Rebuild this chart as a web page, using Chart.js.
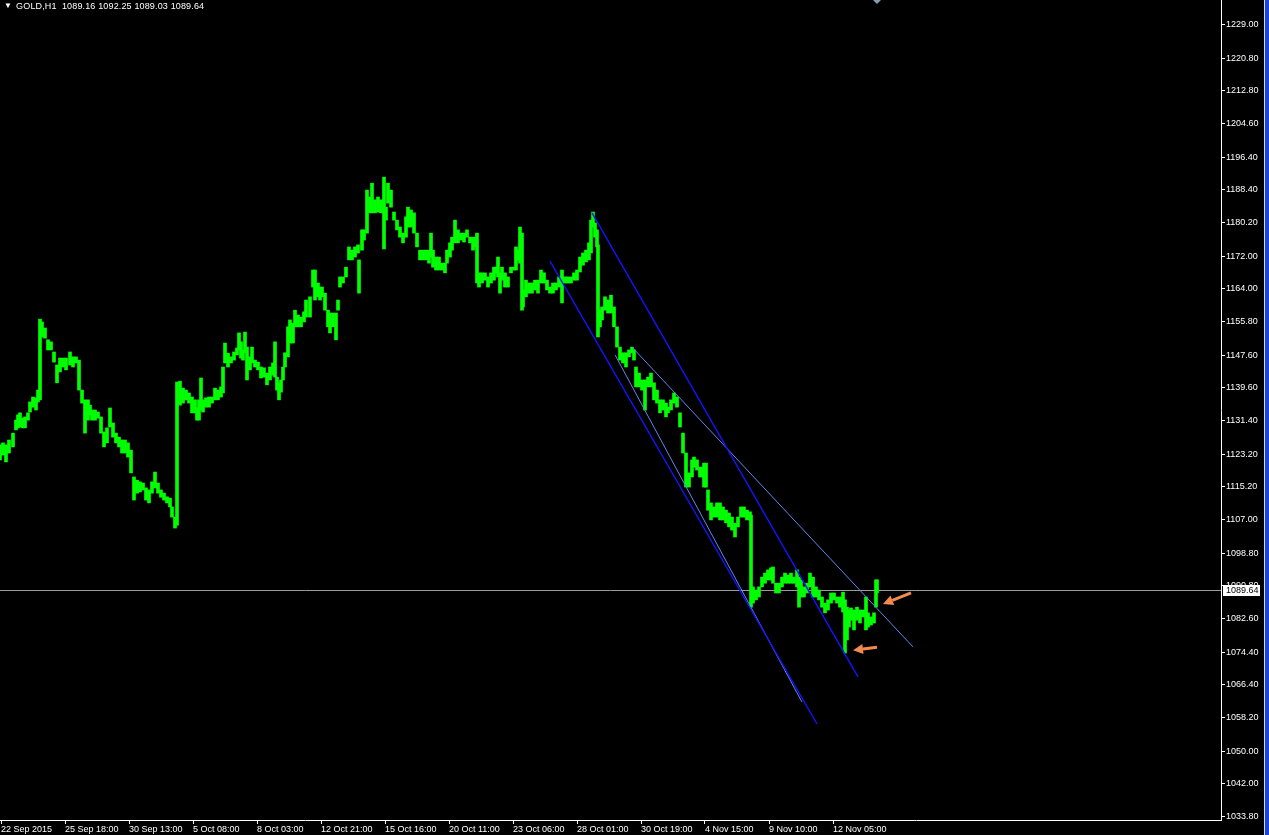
<!DOCTYPE html>
<html><head><meta charset="utf-8">
<script src="https://cdn.jsdelivr.net/npm/chart.js@4/dist/chart.umd.min.js"></script>
<style>
html,body{margin:0;padding:0;background:#000;overflow:hidden}
#wrap{position:relative;width:1269px;height:835px;background:#000}
#c{position:absolute;left:0;top:0}
#hdr{position:absolute;left:4px;top:0;color:#fff;font:9px "Liberation Sans",Arial,sans-serif;white-space:pre;line-height:12px;letter-spacing:0.15px}
#hdr .tri{font-size:8px;vertical-align:1px;margin-right:4px}
#mark{position:absolute;left:873px;top:0;width:0;height:0;border-left:4px solid transparent;border-right:4px solid transparent;border-top:4px solid #8a9ab0}
#edge{position:absolute;left:1264px;top:0;width:4px;height:835px;border-left:1px solid #d8d8d8;background:#1b45d6}
</style></head>
<body><div id="wrap"><canvas id="c" width="1269" height="835"></canvas><div id="hdr"></div><div id="mark"></div><div id="edge"></div></div>
<script>
// ---- data (x = hourly bar index) ----
const symbolName = "GOLD,H1";
const lastOHLC = [1089.16, 1092.25, 1089.03, 1089.64];

const xTickBars = [1, 65, 129, 193, 257, 321, 385, 449, 513, 577, 641, 705, 769, 833];
const xTickLabels = ["22 Sep 2015","25 Sep 18:00","30 Sep 13:00","5 Oct 08:00","8 Oct 03:00","12 Oct 21:00","15 Oct 16:00","20 Oct 11:00","23 Oct 06:00","28 Oct 01:00","30 Oct 19:00","4 Nov 15:00","9 Nov 10:00","12 Nov 05:00"];
const yTickValues = [1229.00,1220.80,1212.80,1204.60,1196.40,1188.40,1180.20,1172.00,1164.00,1155.80,1147.60,1139.60,1131.40,1123.20,1115.20,1107.00,1098.80,1090.80,1082.60,1074.40,1066.40,1058.20,1050.00,1042.00,1033.80];

const barX = [
0,3,6,9,13,16,18,20,23,25,
28,30,33,36,38,40,42,45,48,51,
54,57,60,63,66,70,73,76,79,82,
85,88,90,92,95,98,101,104,107,110,
113,116,119,122,125,128,131,134,137,140,
143,146,149,152,155,158,161,164,167,170,
172,175,177,180,183,186,189,192,195,197,
199,201,203,206,209,212,215,218,221,223,
225,228,231,234,237,239,241,243,245,247,
250,252,255,258,261,264,267,270,273,275,
277,279,281,283,285,288,290,293,295,298,
301,304,306,310,313,315,318,320,322,325,
328,330,333,336,338,340,343,346,349,352,
355,358,359,362,364,367,370,372,375,378,
381,384,386,388,391,394,397,400,403,406,
408,411,414,417,420,423,426,429,431,433,
436,439,442,445,447,450,452,455,458,461,
464,467,470,473,476,477,479,482,485,488,
491,494,496,498,500,502,505,508,511,514,
516,518,520,522,523,526,529,532,535,538,
541,544,547,550,553,556,559,562,565,568,
571,574,577,580,583,586,589,591,593,595,
597,598,600,602,605,608,611,614,617,620,
623,626,629,632,634,636,639,642,645,648,
651,654,657,660,663,666,668,671,674,677,
680,683,686,689,692,694,697,700,702,704,
706,708,711,714,717,720,723,726,729,732,
735,738,741,744,747,750,751,753,756,759,
762,765,768,771,773,776,779,782,785,788,
791,794,797,799,801,804,807,810,813,816,
819,822,825,828,831,834,837,840,843,845,
847,849,851,854,857,860,863,866,868,871,
874,876,877];

const barHigh = [
1125.5,1126.0,1125.5,1126.7,1128.4,1131.6,1132.9,1133.4,1132.1,1132.4,
1133.4,1136.1,1137.3,1137.1,1139.0,1156.5,1155.8,1154.3,1151.4,1150.9,
1148.4,1145.2,1146.9,1146.9,1146.9,1148.4,1147.2,1147.2,1146.4,1139.0,
1136.6,1136.6,1135.3,1134.1,1134.1,1133.6,1132.4,1128.7,1129.7,1134.6,
1130.9,1128.4,1127.4,1126.7,1126.7,1126.0,1124.2,1117.6,1116.8,1116.4,
1116.1,1114.9,1114.4,1116.4,1118.8,1116.1,1114.4,1113.6,1112.7,1112.4,
1110.2,1107.7,1141.0,1141.2,1139.5,1139.0,1138.3,1137.3,1136.6,1134.8,
1136.6,1142.0,1136.6,1137.1,1137.3,1137.3,1139.5,1139.0,1139.8,1144.7,
1150.6,1148.1,1147.2,1148.4,1149.4,1153.1,1150.9,1148.9,1153.3,1149.6,
1147.2,1149.6,1146.4,1145.9,1144.7,1144.5,1143.2,1144.7,1145.7,1150.9,
1142.2,1140.8,1141.5,1144.7,1148.2,1154.6,1156.3,1155.5,1158.7,1157.5,
1157.0,1158.3,1161.2,1162.0,1168.6,1168.6,1165.4,1164.4,1164.4,1162.9,
1158.7,1158.0,1158.0,1158.0,1161.2,1166.9,1166.9,1169.3,1174.3,1173.5,
1174.3,1174.8,1171.1,1178.5,1178.5,1188.3,1186.6,1190.0,1185.9,1186.6,
1185.9,1191.5,1184.1,1190.0,1188.3,1182.9,1180.9,1179.2,1177.7,1181.7,
1184.1,1183.4,1182.7,1177.7,1173.5,1173.5,1173.5,1173.5,1177.7,1173.5,
1171.8,1171.8,1170.3,1170.3,1173.5,1175.3,1176.7,1180.9,1178.5,1177.7,
1177.7,1178.5,1176.7,1176.7,1176.7,1177.7,1167.9,1167.9,1167.9,1166.9,
1167.9,1169.3,1169.3,1171.8,1167.9,1169.3,1167.9,1166.9,1169.3,1169.3,
1174.3,1173.5,1179.2,1177.7,1163.7,1166.1,1165.4,1165.4,1166.1,1166.1,
1168.6,1167.9,1166.1,1164.4,1165.4,1165.4,1166.9,1168.6,1166.9,1166.9,
1166.9,1167.9,1168.6,1171.8,1172.8,1173.5,1175.3,1180.9,1182.9,1180.2,
1178.5,1174.8,1158.7,1159.5,1162.0,1161.2,1162.4,1159.5,1154.6,1149.6,
1148.2,1148.2,1148.9,1149.6,1148.9,1144.7,1143.2,1141.5,1141.5,1142.2,
1143.2,1140.8,1139.0,1136.6,1136.6,1135.8,1134.8,1136.6,1138.3,1137.3,
1133.4,1128.4,1123.5,1118.6,1121.8,1122.5,1121.8,1120.0,1120.0,1121.0,
1121.0,1114.4,1111.2,1110.2,1111.2,1111.2,1110.2,1109.4,1108.7,1107.7,
1106.2,1107.7,1110.2,1110.2,1109.4,1109.0,1108.2,1090.5,1089.7,1090.5,
1092.9,1093.9,1094.7,1095.2,1095.4,1091.4,1091.4,1092.9,1093.9,1093.4,
1093.9,1092.9,1094.7,1092.9,1092.2,1090.5,1091.4,1093.9,1092.9,1090.5,
1089.7,1088.0,1086.5,1087.3,1089.0,1089.0,1088.0,1088.0,1089.2,1087.3,
1085.5,1084.8,1085.3,1084.8,1085.5,1084.8,1084.8,1088.0,1084.1,1083.1,
1084.1,1092.2,1092.25];

const barLow = [
1121.8,1123.0,1121.3,1123.5,1125.0,1129.2,1129.7,1129.9,1129.7,1129.7,
1131.6,1133.6,1134.8,1134.1,1136.1,1136.6,1152.1,1151.8,1148.9,1148.9,
1145.9,1140.8,1143.5,1144.7,1144.0,1145.2,1144.7,1145.7,1139.0,1135.8,
1128.4,1131.6,1132.9,1131.6,1131.6,1132.1,1128.4,1125.0,1126.0,1129.9,
1127.4,1126.0,1125.0,1123.5,1123.5,1122.5,1118.6,1111.9,1113.6,1113.9,
1114.4,1111.9,1111.2,1113.6,1114.9,1113.6,1112.6,1111.9,1111.2,1110.2,
1107.7,1105.0,1105.7,1135.3,1135.8,1136.6,1135.8,1133.4,1133.4,1131.6,
1131.6,1134.1,1133.6,1134.8,1134.8,1135.8,1136.6,1136.6,1137.3,1138.3,
1145.7,1144.7,1145.7,1146.4,1147.7,1148.9,1146.9,1146.4,1148.2,1141.5,
1144.0,1145.7,1144.7,1144.0,1142.0,1142.2,1140.3,1141.5,1142.7,1142.2,
1139.0,1136.6,1138.5,1141.5,1144.7,1147.2,1150.6,1150.6,1154.6,1154.6,
1154.6,1155.8,1157.0,1157.0,1164.4,1161.2,1162.0,1161.2,1162.0,1158.7,
1154.6,1153.1,1154.6,1151.4,1158.7,1164.4,1165.4,1166.9,1171.1,1171.1,
1171.8,1172.8,1162.9,1173.5,1176.0,1177.7,1182.7,1182.7,1182.7,1182.9,
1182.7,1173.8,1180.9,1185.1,1184.1,1180.9,1178.5,1176.7,1175.3,1176.7,
1179.2,1179.2,1177.7,1174.3,1171.1,1171.1,1171.1,1170.3,1171.8,1169.3,
1168.6,1168.6,1168.6,1167.9,1170.3,1171.8,1173.5,1175.3,1175.3,1176.0,
1175.5,1176.7,1175.3,1173.5,1174.3,1165.4,1164.4,1165.4,1166.1,1164.4,
1165.4,1166.1,1167.9,1166.9,1162.9,1166.1,1164.4,1164.4,1167.9,1168.6,
1168.6,1171.1,1170.3,1158.7,1159.5,1162.0,1162.9,1162.9,1163.7,1162.9,
1165.4,1165.4,1163.7,1162.9,1162.9,1163.7,1164.4,1160.5,1165.4,1165.4,
1165.4,1166.1,1166.1,1168.1,1169.8,1170.6,1171.1,1172.8,1179.2,1176.7,
1174.3,1152.1,1154.6,1156.3,1158.7,1158.0,1158.0,1154.6,1149.6,1146.4,
1145.7,1144.7,1147.2,1148.2,1146.4,1139.8,1139.8,1139.0,1134.1,1139.8,
1139.8,1136.6,1135.8,1133.4,1134.1,1132.4,1133.4,1134.1,1135.8,1134.8,
1129.9,1123.5,1115.1,1115.1,1117.6,1120.0,1119.3,1117.6,1117.6,1115.1,
1115.1,1109.4,1107.0,1107.7,1107.7,1107.0,1107.0,1106.3,1105.3,1104.5,
1102.8,1105.3,1107.7,1107.7,1107.0,1107.0,1085.5,1086.5,1087.3,1088.0,
1090.5,1091.4,1092.2,1092.2,1091.4,1089.0,1089.0,1090.5,1091.4,1091.4,
1091.4,1091.4,1090.5,1085.5,1088.0,1088.0,1089.0,1090.5,1088.0,1088.0,
1087.3,1085.5,1084.1,1084.8,1086.5,1087.3,1086.5,1085.5,1084.3,1074.2,
1077.4,1080.6,1082.3,1079.9,1082.3,1081.6,1083.1,1079.9,1080.6,1081.1,
1081.6,1085.5,1089.03];

// trend lines drawn on the chart: [startBar, startPrice, endBar, endPrice]
const channelUpper = [592, 1182.7, 858, 1068.3];
const channelLower = [550, 1170.8, 817, 1056.7];
const thinUpper    = [632, 1149.6, 913, 1075.7];
const thinLower    = [615, 1147.7, 802, 1062.1];
// orange arrows: [tailBar, tailPrice, tipBar, tipPrice]
const arrowBreakout = [911, 1089.0, 883, 1086.3];
const arrowLow      = [877, 1075.6, 853, 1074.9];

// ---- presentation ----
const yMax = 1235.16, yMin = 1033.04;
const FONT = {family: '"Liberation Sans", Arial, sans-serif', size: 9};

document.getElementById('hdr').innerHTML =
  '<span class="tri">\u25BC</span>' + symbolName + '  ' + lastOHLC.map(v => v.toFixed(2)).join(' ');

const lineDs = (seg, color, w) => ({
  type: 'line',
  data: [{x: seg[0], y: seg[1]}, {x: seg[2], y: seg[3]}],
  borderColor: color, borderWidth: w, pointRadius: 0, fill: false, tension: 0, order: 0
});

const overlay = {
  id: 'overlay',
  beforeDatasetsDraw(chart) {
    const {ctx, chartArea, scales} = chart;
    const y = Math.round(scales.y.getPixelForValue(lastOHLC[3])) + 0.5;
    ctx.save();
    ctx.strokeStyle = '#9c9c9c'; ctx.lineWidth = 1;
    ctx.beginPath(); ctx.moveTo(chartArea.left, y); ctx.lineTo(chartArea.right, y); ctx.stroke();
    ctx.restore();
  },
  afterDatasetsDraw(chart) {
    const {ctx, scales} = chart;
    ctx.save();
    ctx.fillStyle = '#f58a4f'; ctx.strokeStyle = '#f58a4f';
    [arrowBreakout, arrowLow].forEach(a => {
      const x1 = scales.x.getPixelForValue(a[0]), y1 = scales.y.getPixelForValue(a[1]);
      const x2 = scales.x.getPixelForValue(a[2]), y2 = scales.y.getPixelForValue(a[3]);
      const ang = Math.atan2(y2 - y1, x2 - x1);
      const hl = 10, hw = 5;
      const bx = x2 - hl * Math.cos(ang), by = y2 - hl * Math.sin(ang);
      ctx.lineWidth = 3; ctx.lineCap = 'butt';
      ctx.beginPath(); ctx.moveTo(x1, y1); ctx.lineTo(bx, by); ctx.stroke();
      ctx.beginPath();
      ctx.moveTo(x2, y2);
      ctx.lineTo(bx + hw * Math.sin(ang), by - hw * Math.cos(ang));
      ctx.lineTo(bx - hw * Math.sin(ang), by + hw * Math.cos(ang));
      ctx.closePath(); ctx.fill();
    });
    ctx.restore();
  },
  afterDraw(chart) {
    const {ctx, chartArea, scales} = chart;
    const y = Math.round(scales.y.getPixelForValue(lastOHLC[3]));
    ctx.save();
    ctx.fillStyle = '#ffffff';
    ctx.fillRect(chartArea.right + 2, y - 5, 37, 11);
    ctx.fillStyle = '#000000';
    ctx.font = '9px "Liberation Sans", Arial, sans-serif';
    ctx.textBaseline = 'middle'; ctx.textAlign = 'left';
    ctx.fillText(lastOHLC[3].toFixed(2), chartArea.right + 5, y + 0.5);
    ctx.restore();
  }
};

new Chart(document.getElementById('c'), {
  type: 'bar',
  data: {
    datasets: [
      lineDs(channelUpper, '#1414ff', 1.4),
      lineDs(channelLower, '#1414ff', 1.4),
      lineDs(thinUpper, '#6088ee', 1),
      lineDs(thinLower, '#6088ee', 1),
      {
        type: 'bar',
        data: barX.map((x, i) => ({x: x, y: [barLow[i], barHigh[i]]})),
        backgroundColor: '#00ff00', borderWidth: 0, barThickness: 3, order: 1
      }
    ]
  },
  options: {
    responsive: false, animation: false, devicePixelRatio: 1,
    layout: {padding: 0},
    plugins: {legend: {display: false}, tooltip: {enabled: false}, title: {display: false}},
    scales: {
      x: {
        type: 'linear', min: 0, max: 1221, offset: false, position: 'bottom',
        afterBuildTicks: s => { s.ticks = xTickBars.map(v => ({value: v})); },
        afterFit: s => { s.height = 15; s.paddingLeft = 0; s.paddingRight = 0; },
        ticks: {autoSkip: false, maxRotation: 0, minRotation: 0, align: 'start', padding: 0,
                color: '#ffffff', font: FONT, callback: (v, i) => xTickLabels[i]},
        grid: {display: true, drawOnChartArea: false, drawTicks: true, tickLength: 4, color: '#ffffff', offset: false},
        border: {display: true, color: '#ffffff', width: 1}
      },
      y: {
        type: 'linear', position: 'right', min: yMin, max: yMax,
        afterBuildTicks: s => { s.ticks = yTickValues.map(v => ({value: v})); },
        afterFit: s => { s.width = 48; s.paddingTop = 0; s.paddingBottom = 0; },
        ticks: {autoSkip: false, padding: 1, color: '#ffffff', font: FONT, crossAlign: 'near',
                callback: v => Number(v).toFixed(2)},
        grid: {display: true, drawOnChartArea: false, drawTicks: true, tickLength: 4, color: '#ffffff'},
        border: {display: true, color: '#ffffff', width: 1}
      }
    }
  },
  plugins: [overlay]
});
</script>
</body></html>
